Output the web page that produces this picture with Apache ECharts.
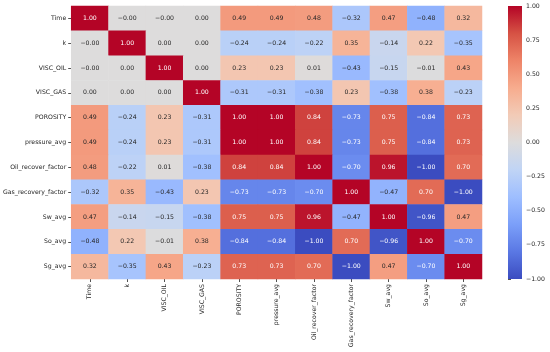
<!DOCTYPE html>
<html>
<head>
<meta charset="utf-8">
<script src="https://cdn.jsdelivr.net/npm/echarts@6/dist/echarts.min.js"></script>
<style>html,body{margin:0;padding:0;background:#fff;}#c{width:550px;height:352px;}</style>
</head>
<body>
<div id="c"></div>
<script>
const variables = ['Time','k','VISC_OIL','VISC_GAS','POROSITY','pressure_avg','Oil_recover_factor','Gas_recovery_factor','Sw_avg','So_avg','Sg_avg'];
const rowTime     = [1.00, -0.001, -0.001, 0.00, 0.49, 0.49, 0.48, -0.32, 0.47, -0.48, 0.32];
const rowK        = [-0.001, 1.00, 0.00, 0.00, -0.24, -0.24, -0.22, 0.35, -0.14, 0.22, -0.35];
const rowViscOil  = [-0.001, 0.00, 1.00, 0.00, 0.23, 0.23, 0.01, -0.43, -0.15, -0.01, 0.43];
const rowViscGas  = [0.00, 0.00, 0.00, 1.00, -0.31, -0.31, -0.38, 0.23, -0.38, 0.38, -0.23];
const rowPorosity = [0.49, -0.24, 0.23, -0.31, 1.00, 1.00, 0.84, -0.73, 0.75, -0.84, 0.73];
const rowPressure = [0.49, -0.24, 0.23, -0.31, 1.00, 1.00, 0.84, -0.73, 0.75, -0.84, 0.73];
const rowOilRF    = [0.48, -0.22, 0.01, -0.38, 0.84, 0.84, 1.00, -0.70, 0.96, -1.00, 0.70];
const rowGasRF    = [-0.32, 0.35, -0.43, 0.23, -0.73, -0.73, -0.70, 1.00, -0.47, 0.70, -1.00];
const rowSw       = [0.47, -0.14, -0.15, -0.38, 0.75, 0.75, 0.96, -0.47, 1.00, -0.96, 0.47];
const rowSo       = [-0.48, 0.22, -0.01, 0.38, -0.84, -0.84, -1.00, 0.70, -0.96, 1.00, -0.70];
const rowSg       = [0.32, -0.35, 0.43, -0.23, 0.73, 0.73, 0.70, -1.00, 0.47, -0.70, 1.00];
const matrix = [rowTime,rowK,rowViscOil,rowViscGas,rowPorosity,rowPressure,rowOilRF,rowGasRF,rowSw,rowSo,rowSg];
const colorRange = [-1, 1];
const colorbarTicks = [-1.00,-0.75,-0.50,-0.25,0.00,0.25,0.50,0.75,1.00];

const coolwarm = ['#3b4cc0','#5a78e4','#7b9ff9','#9ebeff','#c0d4f5','#dddcdc','#f2cbb7','#f7ac8e','#ee8468','#d65244','#b40426'];
const fmt = v => v.toFixed(2).replace('-', '\u2212');
const FONT = 'DejaVu Sans';

const data = [];
matrix.forEach((row, yi) => row.forEach((v, xi) => {
  data.push({value: [xi, yi, v], label: {color: Math.abs(v) >= 0.6 ? '#ffffff' : '#262626'}});
}));

const gradientStops = coolwarm.map((c, i) => ({offset: 1 - i / (coolwarm.length - 1), color: c})).reverse();

const chart = echarts.init(document.getElementById('c'), null, {renderer: 'canvas'});
chart.setOption({
  animation: false,
  backgroundColor: '#ffffff',
  grid: [
    {left: 70, top: 6, width: 412, height: 273},
    {left: 508, top: 6, width: 14, height: 273}
  ],
  xAxis: [
    {type: 'category', gridIndex: 0, data: variables, position: 'bottom',
     axisLine: {show: false}, splitLine: {show: false},
     axisTick: {show: true, alignWithLabel: true, length: 3, lineStyle: {color: '#262626', width: 0.8}},
     axisLabel: {rotate: 90, interval: 0, fontFamily: FONT, fontSize: 6.2, color: '#262626', margin: 5}},
    {type: 'value', gridIndex: 1, show: false, min: 0, max: 1}
  ],
  yAxis: [
    {type: 'category', gridIndex: 0, data: variables, inverse: true,
     axisLine: {show: false}, splitLine: {show: false},
     axisTick: {show: true, alignWithLabel: true, length: 3, lineStyle: {color: '#262626', width: 0.8}},
     axisLabel: {interval: 0, fontFamily: FONT, fontSize: 6.2, color: '#262626', margin: 5}},
    {type: 'value', gridIndex: 1, position: 'right', min: colorRange[0], max: colorRange[1], interval: 0.25,
     axisLine: {show: false}, splitLine: {show: false},
     axisTick: {show: true, length: 3, lineStyle: {color: '#262626', width: 0.8}},
     axisLabel: {fontFamily: FONT, fontSize: 6.2, color: '#262626', margin: 4,
       formatter: v => colorbarTicks.some(t => Math.abs(t - v) < 1e-9) ? fmt(v) : ''}}
  ],
  visualMap: {
    show: false, type: 'continuous', min: colorRange[0], max: colorRange[1], seriesIndex: 0,
    inRange: {color: coolwarm}
  },
  series: [{
    type: 'heatmap', xAxisIndex: 0, yAxisIndex: 0, data: data,
    label: {show: true, fontFamily: FONT, fontSize: 6.2, formatter: p => fmt(p.value[2])},
    itemStyle: {borderWidth: 0},
    emphasis: {disabled: true}
  }, {
    type: 'custom', xAxisIndex: 1, yAxisIndex: 1, silent: true,
    data: [[0, colorRange[0], colorRange[1]]],
    renderItem: (params, api) => {
      const p0 = api.coord([0, api.value(2)]);
      const p1 = api.coord([1, api.value(1)]);
      return {
        type: 'rect',
        shape: {x: p0[0], y: p0[1], width: p1[0] - p0[0], height: p1[1] - p0[1]},
        style: {fill: new echarts.graphic.LinearGradient(0, 0, 0, 1, gradientStops)}
      };
    }
  }]
});
</script>
</body>
</html>
